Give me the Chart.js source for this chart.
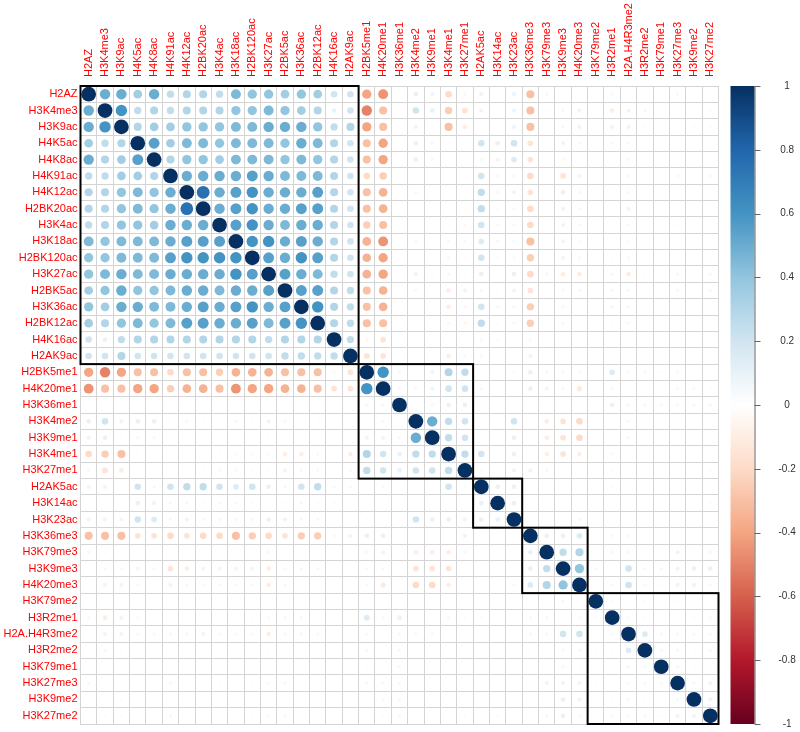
<!DOCTYPE html>
<html><head><meta charset="utf-8">
<script src="https://cdn.jsdelivr.net/npm/chart.js@4"></script>
<style>html,body{margin:0;padding:0;background:#fff;overflow:hidden}#wrap{position:relative;width:800px;height:732px}</style>
</head><body><div id="wrap"><canvas id="c"></canvas></div>
<script>
const labels = ["H2AZ","H3K4me3","H3K9ac","H4K5ac","H4K8ac","H4K91ac","H4K12ac","H2BK20ac","H3K4ac","H3K18ac","H2BK120ac","H3K27ac","H2BK5ac","H3K36ac","H2BK12ac","H4K16ac","H2AK9ac","H2BK5me1","H4K20me1","H3K36me1","H3K4me2","H3K9me1","H3K4me1","H3K27me1","H2AK5ac","H3K14ac","H3K23ac","H3K36me3","H3K79me3","H3K9me3","H4K20me3","H3K79me2","H3R2me1","H2A.H4R3me2","H3R2me2","H3K79me1","H3K27me3","H3K9me2","H3K27me2"];
const clusterSizes = [17, 7, 3, 4, 8];
const colorbarMin = -1, colorbarMax = 1, colorbarStep = 0.2;

// upper triangle: row i holds correlations with columns i+1 .. 38
const r00 = [0.5,0.5,0.35,0.5,0.25,0.3,0.3,0.25,0.45,0.4,0.4,0.35, 0.4,0.35,0.2,0.2, -0.4,-0.45,0,0.1,0.08,-0.2,-0.05,-0.08,0.02, 0.08,-0.3,0.05,0,0,0,-0.05,-0.02,0,0,0.05,0,0];
const r01 = [0.6,0.25,0.3,0.25,0.3,0.3,0.3,0.4,0.4,0.45,0.4, 0.35,0.3,0.1,0.2, -0.5,-0.3,0,0.2,0.1,-0.25,-0.15,-0.08,0, 0.08,-0.3,0.03,-0.05,-0.08,0,-0.1,-0.08,-0.05,0,0.02,-0.02,-0.03];
const r02 = [0.3,0.35,0.35,0.4,0.4,0.4,0.45,0.45,0.5,0.5, 0.5,0.4,0.25,0.3, -0.4,-0.3,0,0.08,0.03,-0.3,-0.1,-0.02,0.02, 0.08,-0.3,0,-0.05,-0.08,0,-0.08,-0.08,-0.03,0,-0.02,-0.03,-0.03];
const r03 = [0.55,0.35,0.45,0.45,0.4,0.45,0.45,0.45,0.4, 0.5,0.45,0.3,0.2, -0.3,-0.4,0.02,0.1,0.05,-0.03,0.02,0.2,0.1, 0.2,-0.15,0.01,-0.08,-0.05,0,-0.05,-0.05,-0.02,0,0,0,0];
const r04 = [0.3,0.4,0.4,0.35,0.45,0.45,0.45,0.4, 0.45,0.4,0.3,0.2, -0.3,-0.4,0.02,0.1,0.05,0.01,0,0.05,0.08, 0.15,-0.15,0,-0.05,-0.02,0,-0.02,-0.05,-0.02,0,0,0,0];
const r05 = [0.5,0.5,0.5,0.5,0.55,0.5,0.45, 0.45,0.45,0.3,0.2, -0.2,-0.25,0,0.03,0.01,0,-0.02,0.2,0.05, 0.05,-0.2,0.02,-0.15,-0.08,0,-0.02,-0.05,-0.02,0,-0.05,-0.03,-0.05];
const r06 = [0.75,0.5,0.55,0.6,0.5,0.5, 0.5,0.55,0.3,0.2, -0.3,-0.35,0,0.05,0.01,0,0,0.25,0.05, 0.08,-0.15,0.02,-0.1,-0.05,0,-0.02,-0.05,-0.02,0,-0.02,0,-0.02];
const r07 = [0.5,0.55,0.6,0.5,0.5, 0.55,0.55,0.3,0.2, -0.3,-0.35,0,0.03,0,0,-0.03,0.25,0.03, 0.05,-0.2,0.01,-0.08,-0.05,0,-0.02,-0.08,-0.02,0,0,0,0];
const r08 = [0.55,0.6,0.5,0.45, 0.5,0.5,0.3,0.2, -0.25,-0.3,0,0.01,0,-0.03,-0.05,0.2,0.05, 0.05,-0.2,0.01,-0.08,-0.05,0,-0.02,-0.05,-0.02,0,-0.03,0,-0.02];
const r09 = [0.6,0.6,0.5, 0.55,0.5,0.3,0.2, -0.35,-0.45,0,0.05,0.02,-0.05,-0.05,0.15,0.05, 0.05,-0.3,0,-0.08,-0.05,0,-0.02,-0.05,-0.02,0,-0.02,0,0];
const r10 = [0.55,0.5, 0.6,0.55,0.3,0.2, -0.35,-0.4,0,0.03,0,-0.05,-0.03,0.2,0.03, 0.05,-0.25,0.01,-0.08,-0.05,0,-0.03,-0.05,-0.02,0,-0.03,0,-0.03];
const r11 = [0.55, 0.5,0.45,0.25,0.2, -0.35,-0.4,0,0.08,0.03,-0.05,-0.03,0.1,0.02, 0.1,-0.2,-0.05,-0.1,-0.1,0,-0.05,-0.1,-0.03,-0.02,-0.05,-0.02,-0.05];
const r12 = [0.55,0.55,0.3,0.25, -0.3,-0.35,0,0.05,0,-0.1,-0.08,0.05,0.03, 0.08,-0.15,-0.02,-0.05,-0.05,0,-0.05,-0.05,-0.02,0,-0.05,0,-0.05];
const r13 = [0.6,0.3,0.25, -0.3,-0.35,0,0.03,0,-0.1,-0.05,0.2,0.05, 0.05,-0.25,0,-0.05,-0.02,0,-0.05,-0.05,-0.02,0,0,0,0];
const r14 = [0.3,0.25, -0.3,-0.3,0,0.03,0,-0.05,-0.05,0.25,0.03, 0.05,-0.25,0,-0.05,-0.02,0,-0.03,-0.05,-0.02,0,0,0,0];
const r15 = [0.25, -0.05,-0.15,0,0,0,0,0,0.05,0.03, 0.02,-0.05,0,0,0,0,0,0,0,0,0,0,0];
const r16 = [-0.15,-0.15,0,0,0,-0.1,-0.05,0.05,0.02, 0.02,-0.08,0,0,0,0,0,0,0,0,0,0,0];
const r17 = [0.6,0.05,0.02,0.08,0.3,0.25,0,0, -0.03,0.1,-0.05,-0.05,-0.05,0,0.15,0.05,0.05,0.03,-0.05,0,0];
const r18 = [0.05,0.05,0.08,0.2,0.2,-0.05,0, -0.02,0.1,-0.08,-0.05,-0.12,0,0.05,0,0.02,0.02,-0.05,-0.05,-0.03];
const r19 = [0.02,0.05,0.1,0.1,0,0, 0.03,0,0.02,0,0,0.01,0.1,0.05,0.05,0.05,0.05,0.05,0.05];
const r20 = [0.5,0.25,0.2,0.02,0, 0.2,-0.03,-0.1,-0.15,-0.2,0,0,-0.05,-0.02,0,0,0,0];
const r21 = [0.25,0.2,0.02,0, 0.1,-0.02,-0.1,-0.15,-0.2,0,0,-0.05,0,0,0,0,0];
const r22 = [0.25,0.2,0, 0.1,0,-0.1,-0.15,-0.1,0,0.05,0,0,0,0,0,0];
const r23 = [0.03,0, 0.08,0.08,-0.05,0,0,0,0.03,0,0,0.02,0.02,0.02,0.03];
const r24 = [0.1, 0.1,0,0,-0.02,0,0,0.03,0,0,0,0,0,0];
const r25 = [0.1,0,0,0,0,0,0,0,0,0,0.02,0.02,0.03];
const r26 = [0,-0.03,-0.03,-0.05,0,-0.02,0,0,0,0,0,0];
const r27 = [0.1,0.1,0.15,0,0.05,0.05,0.03,0.01,0,0.02,0.02];
const r28 = [0.25,0.3,0.01,0.05,0.05,0.03,0.03,0.08,0.03,0.05];
const r29 = [0.4,0.05,0.02,0.2,0.05,0.05,0.08,0.1,0.1];
const r30 = [0.02,0.05,0.2,0.05,0.03,0.08,0.08,0.05];
const r31 = [0.03,0.02,0.03,0.02,0.03,0.02,0.02];
const r32 = [0.05,0.03,0.02,0.02,0.03,0.05];
const r33 = [0.15,0.05,0.05,0.05,0.05];
const r34 = [0.05,0.05,0.03,0.05];
const r35 = [0.05,0.03,0.03];
const r36 = [0.05,0.08];
const r37 = [0.08];
const upperRows = [r00,r01,r02,r03,r04,r05,r06,r07,r08,r09,r10,r11,r12,r13,r14,r15,r16,r17,r18,r19,r20,r21,r22,r23,r24,r25,r26,r27,r28,r29,r30,r31,r32,r33,r34,r35,r36,r37];

const rdbu = ["#67001F","#B2182B","#D6604D","#F4A582","#FDDBC7","#FFFFFF","#D1E5F0","#92C5DE","#4393C3","#2166AC","#053061"];

function corr(i, j) {
  if (i === j) return 1;
  const a = Math.min(i, j), b = Math.max(i, j);
  return upperRows[a][b - a - 1];
}
function hex2rgb(h) { return [parseInt(h.substr(1,2),16), parseInt(h.substr(3,2),16), parseInt(h.substr(5,2),16)]; }
function colorFor(v) {
  const t = (Math.max(-1, Math.min(1, v)) + 1) / 2 * (rdbu.length - 1);
  const k = Math.min(rdbu.length - 2, Math.floor(t));
  const f = t - k;
  const c0 = hex2rgb(rdbu[k]), c1 = hex2rgb(rdbu[k + 1]);
  const c = c0.map((x, n) => Math.round(x + (c1[n] - x) * f));
  return `rgb(${c[0]},${c[1]},${c[2]})`;
}

const points = [];
for (let i = 0; i < labels.length; i++) {
  for (let j = 0; j < labels.length; j++) {
    const v = corr(i, j);
    if (v !== 0) points.push({ x: labels[j], y: labels[i], v: v });
  }
}

function cellSize(chart) {
  const xs = chart.scales.x;
  return Math.abs(xs.getPixelForValue(1) - xs.getPixelForValue(0));
}

const clusterPlugin = {
  id: 'clusters',
  afterDatasetsDraw(chart) {
    const ctx = chart.ctx, xs = chart.scales.x, ys = chart.scales.y;
    const cw = Math.abs(xs.getPixelForValue(1) - xs.getPixelForValue(0));
    const ch = Math.abs(ys.getPixelForValue(1) - ys.getPixelForValue(0));
    ctx.save();
    ctx.strokeStyle = '#000';
    ctx.lineWidth = 2;
    let start = 0;
    clusterSizes.forEach(sz => {
      const x0 = xs.getPixelForValue(start) - cw / 2;
      const x1 = xs.getPixelForValue(start + sz - 1) + cw / 2;
      const y0 = ys.getPixelForValue(start) - ch / 2;
      const y1 = ys.getPixelForValue(start + sz - 1) + ch / 2;
      ctx.strokeRect(x0, y0, x1 - x0, y1 - y0);
      start += sz;
    });
    ctx.restore();
  }
};

const colorbarPlugin = {
  id: 'colorbar',
  afterDraw(chart) {
    const ctx = chart.ctx, cb = chart.scales.cb;
    const top = cb.getPixelForValue(colorbarMax), bot = cb.getPixelForValue(colorbarMin);
    const x0 = 730.5, w = 24;
    const g = ctx.createLinearGradient(0, top, 0, bot);
    rdbu.slice().reverse().forEach((c, k) => g.addColorStop(k / (rdbu.length - 1), c));
    ctx.save();
    ctx.fillStyle = g;
    ctx.fillRect(x0, top, w, bot - top);
    ctx.strokeStyle = '#666';
    ctx.lineWidth = 1;
    ctx.beginPath();
    ctx.moveTo(x0 + w + 0.5, top);
    ctx.lineTo(x0 + w + 0.5, bot);
    cb.ticks.forEach(t => {
      const y = Math.round(cb.getPixelForValue(t.value)) + 0.5;
      ctx.moveTo(x0 + w, y);
      ctx.lineTo(x0 + w + 6, y);
    });
    ctx.stroke();
    ctx.restore();
  }
};

const gridColor = '#D4D4D4';
const labelFont = { family: 'Liberation Sans, Arial, sans-serif', size: 11 };

new Chart(document.getElementById('c'), {
  type: 'scatter',
  data: {
    datasets: [{
      data: points,
      pointRadius: c => 0.45 * Math.sqrt(Math.abs(c.raw.v)) * cellSize(c.chart),
      pointHoverRadius: c => 0.45 * Math.sqrt(Math.abs(c.raw.v)) * cellSize(c.chart),
      backgroundColor: c => colorFor(c.raw.v),
      borderWidth: 0,
      pointBorderWidth: 0
    }]
  },
  options: {
    responsive: true,
    maintainAspectRatio: false,
    animation: false,
    events: [],
    layout: { padding: { top: 0, left: 0, right: 0, bottom: 8 } },
    plugins: { legend: { display: false }, tooltip: { enabled: false } },
    scales: {
      x: {
        type: 'category', labels: labels, position: 'top', offset: true,
        grid: { offset: true, color: gridColor, drawTicks: false, tickLength: 0 },
        border: { display: true, color: gridColor },
        ticks: { autoSkip: false, minRotation: 90, maxRotation: 90, color: '#FF0000', font: labelFont, padding: 9, labelOffset: 13.2 },
        afterFit(s) { s.height = 86; }
      },
      y: {
        type: 'category', labels: labels, position: 'left', offset: true,
        grid: { offset: true, color: gridColor, drawTicks: false, tickLength: 0 },
        border: { display: true, color: gridColor },
        ticks: { autoSkip: false, color: '#FF0000', font: labelFont, padding: 3 },
        afterFit(s) { s.width = 80.5; s.paddingTop = 0; s.paddingBottom = 0; }
      },
      cb: {
        type: 'linear', position: 'right', min: colorbarMin, max: colorbarMax,
        grid: { display: false, drawOnChartArea: false, drawTicks: false, tickLength: 0 },
        border: { display: false },
        ticks: {
          stepSize: colorbarStep, color: '#333',
          font: { family: 'Liberation Sans, Arial, sans-serif', size: 10 },
          padding: 60, crossAlign: 'center',
          callback: v => String(Number(Number(v).toFixed(1)))
        },
        afterFit(s) { s.width = 81.5; s.paddingTop = 0; s.paddingBottom = 0; }
      }
    }
  },
  plugins: [clusterPlugin, colorbarPlugin]
});
</script>
</body></html>
